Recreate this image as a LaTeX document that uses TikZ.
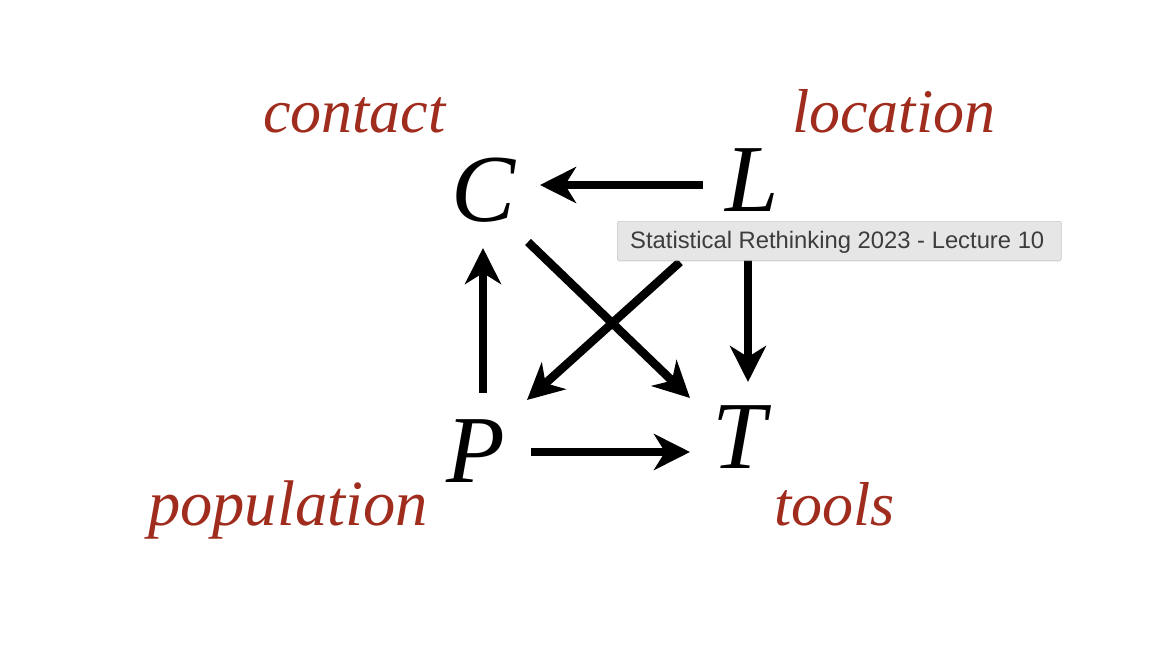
\documentclass[tikz,border=0pt]{standalone}
\usepackage{fontspec}
\setmainfont{Liberation Serif}
\newfontfamily\tipfont{Liberation Sans}
\usetikzlibrary{arrows.meta,calc,shadows}
\definecolor{labred}{RGB}{160,44,30}
\definecolor{tipfill}{RGB}{230,230,230}
\definecolor{tipdraw}{RGB}{200,200,200}
\definecolor{tiptext}{RGB}{60,60,60}
\begin{document}
\begin{tikzpicture}[x=1pt,y=-1pt,
  var/.style={inner sep=0pt,anchor=center,font=\fontsize{96}{100}\selectfont\itshape},
  lab/.style={inner sep=0pt,anchor=base west,text=labred,font=\fontsize{62}{70}\selectfont\itshape},
  arr/.style={line width=8.5pt,-{Stealth[length=36pt,width=36pt,inset=11pt]}},
  tip/.style={draw=tipdraw,fill=tipfill,rounded corners=2pt,line width=0.6pt,
    minimum width=444pt,minimum height=39pt,anchor=north west,inner sep=0pt,
    drop shadow={opacity=0.12,shadow xshift=0pt,shadow yshift=-1.5pt}}]
\useasboundingbox[fill=white] (0,0) rectangle (1160,666);
% variables
\node[var] (C) at (484,190) {C};
\node[var] (L) at (752,180) {L};
\node[var] (P) at (476,451) {P};
\node[var] (T) at (739,437) {T};
% labels
\node[lab] (contact) at (263,133) {contact};
\node[lab] (location) at (792,133) {location};
\node[lab,font=\fontsize{64.5}{70}\selectfont\itshape] (population) at (148,525) {population};
\node[lab] (tools) at (774,525) {tools};
% connectors
\draw[arr] ($(L)+(-49,5)$) -- ($(C)+(56,-5)$);
\draw[arr] ($(L)+(-4,75)$) -- ($(T)+(9,-55)$);
\draw[arr] ($(L)+(-72,82)$) -- ($(P)+(51,-51)$);
\draw[arr] ($(C)+(44,52)$) -- ($(T)+(-49,-39)$);
\draw[arr] ($(P)+(7,-58)$) -- ($(C)+(-1,58)$);
\draw[arr] ($(P)+(55,1)$) -- ($(T)+(-49,15)$);
% tooltip
\node[tip] (tooltip) at (617,221) {};
\node[inner sep=0pt,anchor=base west,text=tiptext,font=\tipfont\fontsize{23.8}{28}\selectfont] (tiptxt) at (630,248) {Statistical Rethinking 2023 - Lecture 10};
\end{tikzpicture}
\end{document}
